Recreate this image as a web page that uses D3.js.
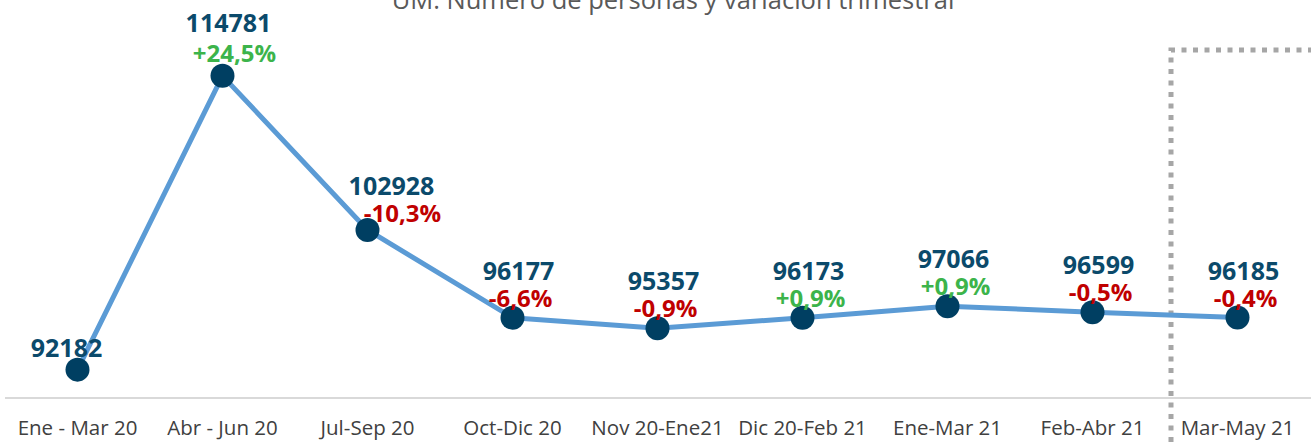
<!DOCTYPE html>
<html>
<head>
<meta charset="utf-8">
<script src="https://cdn.jsdelivr.net/npm/d3@7"></script>
<style>
  html, body { margin: 0; padding: 0; background: #fff; }
  svg { display: block; font-family: "Open Sans", sans-serif; }
</style>
</head>
<body>
<div id="chart"></div>
<script>
(function () {
  "use strict";

  // periods on the x axis
  var periods = ["Ene - Mar 20", "Abr - Jun 20", "Jul-Sep 20", "Oct-Dic 20", "Nov 20-Ene21",
                 "Dic 20-Feb 21", "Ene-Mar 21", "Feb-Abr 21", "Mar-May 21"];
  // number of persons
  var personas = [92182, 114781, 102928, 96177, 95357, 96173, 97066, 96599, 96185];
  // quarterly variation labels (first period has none)
  var variacion = [null, "+24,5%", "-10,3%", "-6,6%", "-0,9%", "+0,9%", "+0,9%", "-0,5%", "-0,4%"];

  var title = "UM: Número de personas y variación trimestral";
  var W = 1311, H = 442;

  var svg = d3.select("#chart").append("svg")
    .attr("width", W).attr("height", H)
    .attr("viewBox", "0 0 " + W + " " + H);

  var x = d3.scaleBand().domain(periods).range([5, 1310]).padding(0);
  var y = d3.scaleLinear().domain([90000, 120000]).range([398, 8]);
  function cx(d) { return x(d) + x.bandwidth() / 2; }

  /* title, clipped by the top edge like the original */
  svg.append("text")
    .attr("x", 673).attr("y", 9)
    .attr("text-anchor", "middle")
    .attr("font-size", 25.5)
    .attr("fill", "#595959")
    .text(title);

  /* x axis baseline */
  svg.append("line")
    .attr("x1", x.range()[0]).attr("x2", W)
    .attr("y1", y(90000)).attr("y2", y(90000))
    .attr("stroke", "#d9d9d9").attr("stroke-width", 2);

  var xAxis = svg.append("g")
    .attr("transform", "translate(0," + y(90000) + ")")
    .call(d3.axisBottom(x).tickSize(0).tickPadding(22));
  xAxis.select(".domain").remove();
  xAxis.selectAll("text")
    .attr("font-family", "'Open Sans', sans-serif")
    .attr("font-size", 20.5)
    .attr("fill", "#404040");

  /* dotted bracket marking the latest period */
  var last = periods[periods.length - 1];
  var sepX = x(last) + 6;
  svg.append("path")
    .attr("d", "M" + sepX + "," + H + "V" + 50 + "H" + W)
    .attr("fill", "none")
    .attr("stroke", "#a6a6a6")
    .attr("stroke-width", 5)
    .attr("stroke-dasharray", "5,6.5");

  /* line */
  var line = d3.line()
    .x(function (d, i) { return cx(periods[i]); })
    .y(function (d) { return y(d); });

  svg.append("path")
    .datum(personas)
    .attr("d", line)
    .attr("fill", "none")
    .attr("stroke", "#5b9bd5")
    .attr("stroke-width", 5)
    .attr("stroke-linejoin", "round");

  svg.selectAll("circle.pt")
    .data(personas)
    .enter().append("circle")
    .attr("class", "pt")
    .attr("cx", function (d, i) { return cx(periods[i]); })
    .attr("cy", function (d) { return y(d); })
    .attr("r", 12)
    .attr("fill", "#003f62");

  /* labels: value on top, variation just under it */
  var labels = svg.selectAll("g.lbl")
    .data(personas)
    .enter().append("g")
    .attr("class", "lbl")
    .attr("transform", function (d, i) { return "translate(" + cx(periods[i]) + "," + y(d) + ")"; });

  labels.append("text")
    .attr("text-anchor", "middle")
    .attr("font-weight", "bold")
    .attr("font-size", 25)
    .attr("fill", "#0b4a6b")
    .attr("x", function (d, i) { return i === 0 ? -11 : (i === 2 ? 24 : 6); })
    .attr("y", function (d, i) { return i === 0 ? -13 : (i === 1 ? -44 : (i === 2 ? -35 : -38)); })
    .text(function (d) { return d; });

  labels.append("text")
    .attr("text-anchor", "middle")
    .attr("font-weight", "bold")
    .attr("font-size", 24)
    .attr("fill", function (d, i) { var v = variacion[i]; return v && v.charAt(0) === "+" ? "#3cb44b" : "#c00000"; })
    .attr("x", function (d, i) { return i === 2 ? 35 : (i === 1 ? 12 : 8); })
    .attr("y", function (d, i) { return i === 1 ? -14 : (i === 2 ? -8 : -11); })
    .text(function (d, i) { return variacion[i] || ""; });
})();
</script>
</body>
</html>
